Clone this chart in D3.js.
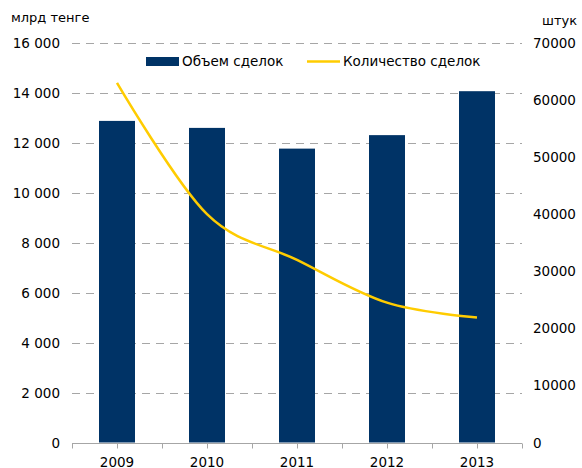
<!DOCTYPE html>
<html>
<head>
<meta charset="utf-8">
<script src="https://cdn.jsdelivr.net/npm/d3@7"></script>
<style>
  body { margin: 0; background: #fff; }
  text { font-family: "DejaVu Sans", Verdana, sans-serif; fill: #000; }
</style>
</head>
<body>
<svg width="582" height="468"></svg>
<script>
let svg = d3.select("svg"),
 width = +svg.attr("width"),
 height = +svg.attr("height");

// data
let years = ["2009", "2010", "2011", "2012", "2013"];
let volume = [12880, 12600, 11770, 12310, 14070];   // млрд тенге
let deals = [63000, 40000, 32000, 24500, 21900];     // штук
let leftTicks = [0, 2000, 4000, 6000, 8000, 10000, 12000, 14000, 16000];
let rightTicks = [0, 10000, 20000, 30000, 40000, 50000, 60000, 70000];

let plotLeft = 72, plotRight = 522, plotTop = 43, plotBottom = 442.5;

let x = d3.scaleBand()
    .domain(years)
    .range([plotLeft, plotRight])
    .paddingInner(0.6)
    .paddingOuter(0.3);

let yL = d3.scaleLinear().domain([0, 16000]).range([plotBottom, plotTop]);
let yR = d3.scaleLinear().domain([0, 70000]).range([plotBottom, plotTop]);

let fmt = d => d3.format(",")(d).replace(/,/g, " ");

// grid lines
svg.append("g")
    .attr("class", "grid")
    .selectAll("line")
    .data(leftTicks.slice(1))
    .enter().append("line")
    .attr("x1", plotLeft).attr("x2", plotRight)
    .attr("y1", d => Math.round(yL(d)) + 0.5)
    .attr("y2", d => Math.round(yL(d)) + 0.5)
    .attr("stroke", "#a6a6a6")
    .attr("stroke-dasharray", "8,6");

// bars
svg.append("g")
    .selectAll("rect")
    .data(years)
    .enter().append("rect")
    .attr("x", d => x(d))
    .attr("width", x.bandwidth())
    .attr("y", (d, i) => yL(volume[i]))
    .attr("height", (d, i) => plotBottom - yL(volume[i]))
    .attr("fill", "#003366");

// bottom axis line + ticks at band edges and centres
let step = x.step();
let tickXs = d3.range(0, years.length * 2 + 1).map(k => plotLeft + k * step / 2);
let axis = svg.append("g").attr("stroke", "#a6a6a6");
axis.append("line")
    .attr("x1", plotLeft).attr("x2", plotRight)
    .attr("y1", Math.round(plotBottom) + 0.5).attr("y2", Math.round(plotBottom) + 0.5);
axis.selectAll("line.tick")
    .data(tickXs)
    .enter().append("line")
    .attr("class", "tick")
    .attr("x1", d => Math.round(d) + 0.5).attr("x2", d => Math.round(d) + 0.5)
    .attr("y1", Math.round(plotBottom) + 0.5).attr("y2", Math.round(plotBottom) + 5.5);

// year labels
svg.append("g")
    .selectAll("text")
    .data(years)
    .enter().append("text")
    .attr("x", d => x(d) + x.bandwidth() / 2)
    .attr("y", 466.5)
    .attr("text-anchor", "middle")
    .attr("font-size", "13.5px")
    .text(d => d);

// left labels
svg.append("g")
    .selectAll("text")
    .data(leftTicks)
    .enter().append("text")
    .attr("x", 60)
    .attr("y", d => yL(d) + 5)
    .attr("text-anchor", "end")
    .attr("font-size", "13.5px")
    .text(d => fmt(d));

// right labels
svg.append("g")
    .selectAll("text")
    .data(rightTicks)
    .enter().append("text")
    .attr("x", 533)
    .attr("y", d => yR(d) + 5)
    .attr("font-size", "13.5px")
    .text(d => d);

// line of deal counts
let line = d3.line()
    .x((d, i) => x(years[i]) + x.bandwidth() / 2)
    .y(d => yR(d))
    .curve(d3.curveCardinal.tension(0));

svg.append("path")
    .datum(deals)
    .attr("d", line)
    .attr("fill", "none")
    .attr("stroke", "#ffcc00")
    .attr("stroke-width", 2.5);

// unit titles
svg.append("text").attr("x", 11).attr("y", 22).attr("font-size", "13px").text("млрд тенге");
svg.append("text").attr("x", 577).attr("y", 25).attr("text-anchor", "end").attr("font-size", "13px").text("штук");

// legend
let legend = svg.append("g");
legend.append("rect")
    .attr("x", 146).attr("y", 57).attr("width", 33).attr("height", 9)
    .attr("fill", "#003366");
legend.append("text").attr("x", 182).attr("y", 66).attr("font-size", "13.5px").text("Объем сделок");
legend.append("line")
    .attr("x1", 307).attr("x2", 340).attr("y1", 61.5).attr("y2", 61.5)
    .attr("stroke", "#ffcc00").attr("stroke-width", 2.5);
legend.append("text").attr("x", 343).attr("y", 66).attr("font-size", "13.5px").text("Количество сделок");
</script>
</body>
</html>
